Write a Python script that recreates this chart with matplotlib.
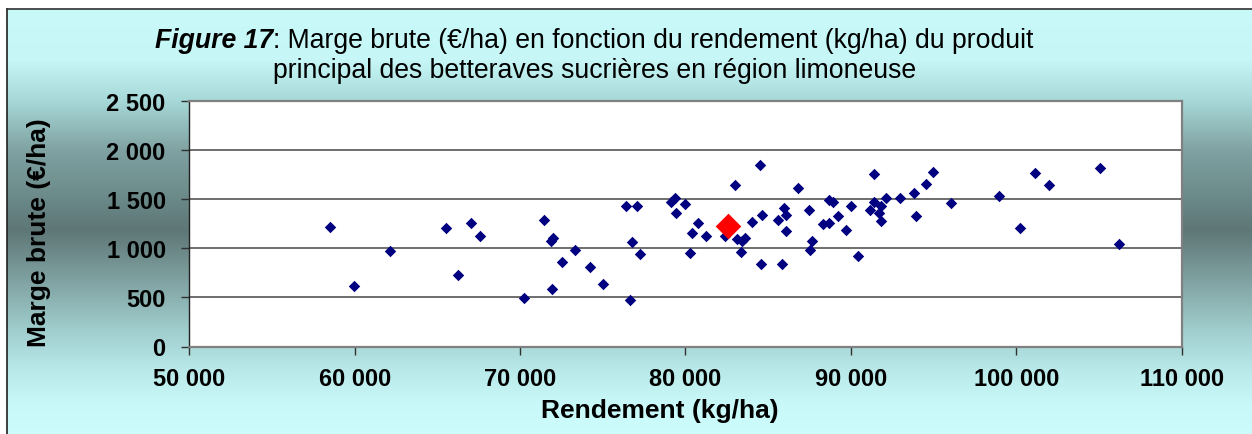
import numpy as np
import matplotlib
matplotlib.use("Agg")
import matplotlib.pyplot as plt
from matplotlib.colors import LinearSegmentedColormap
from matplotlib.ticker import FuncFormatter

plt.rcParams['font.family'] = ['Liberation Sans', 'DejaVu Sans']

# rendement (kg/ha) et marge brute (euro/ha) de chaque exploitation
rendement = [58530, 59950, 62160, 65510, 66240, 67020, 67570, 70250, 71460, 71860,
             72020, 71940, 72530, 73350, 74220, 75010, 76400, 76620, 76780, 77080,
             77280, 79150, 79350, 79950, 79430, 80760, 80390, 81260, 80250, 82990,
             82410, 83140, 83630, 83420, 83350, 84020, 84630, 84530, 84570, 85570,
             85940, 86100, 86100, 85840, 86780, 87480, 87660, 87510, 88330, 88670,
             88680, 88940, 89200, 89990, 89720, 90460, 91390, 91420, 91140, 91800,
             92100, 91700, 91850, 92950, 93820, 93960, 94540, 94980, 96070, 98930,
             100210, 101110, 101980, 105050, 106220]
marge = [1217, 618, 967, 1201, 723, 1258, 1126, 496, 1285, 1075,
         1099, 584, 855, 977, 805, 638, 1427, 472, 1062, 1424,
         943, 1470, 1510, 1451, 1353, 1255, 1153, 1126, 950, 1641,
         1126, 1092, 1102, 1069, 957, 1262, 1339, 1844, 838, 1290,
         1410, 1342, 1176, 840, 1610, 1390, 1075, 980, 1243, 1252,
         1490, 1465, 1324, 1430, 1182, 920, 1751, 1471, 1384, 1430,
         1508, 1360, 1275, 1509, 1563, 1329, 1650, 1771, 1461, 1532,
         1207, 1763, 1644, 1814, 1038]
# moyenne du groupe
moy_rendement = [82550]
moy_marge = [1227]

W, H = 1252, 435
fig = plt.figure(figsize=(W / 100, H / 100), dpi=100)
fig.patch.set_facecolor('white')

# fond en degrade
bg = fig.add_axes([7 / W, 0, 1 - 7 / W, 1 - 10 / H], zorder=-10)
stops = [(0.0, '#c9fafa'), (0.12, '#c6f6f6'), (0.21, '#a9dada'), (0.33, '#80a2a2'),
         (0.45, '#6a8888'), (0.52, '#5e7676'), (0.635, '#7fa0a0'), (0.753, '#9fcccc'),
         (0.847, '#b8e8e8'), (0.93, '#c8f8f8'), (1.0, '#ccfcfc')]
cmap = LinearSegmentedColormap.from_list('fond', stops)
bg.imshow(np.linspace(0, 1, 256).reshape(-1, 1), aspect='auto', cmap=cmap,
          extent=[0, 1, 1, 0])
bg.set_xticks([])
bg.set_yticks([])
for s in ['right', 'bottom']:
    bg.spines[s].set_visible(False)
bg.spines['left'].set_color('#202020')
bg.spines['top'].set_color('#303030')
bg.spines['left'].set_linewidth(1.2)
bg.spines['top'].set_linewidth(1.2)

ax = fig.add_axes([189.3 / W, 1 - 347.5 / H, (1181.6 - 189.3) / W, (347.5 - 101.7) / H])
ax.set_facecolor('white')
ax.scatter(rendement, marge, marker='D', s=34, color='#000080', linewidths=0, zorder=3)
ax.scatter(moy_rendement, moy_marge, marker='D', s=170, color='#ff0000', linewidths=0, zorder=4)

ax.set_xlim(50000, 110000)
ax.set_ylim(0, 2500)
ax.set_xticks(range(50000, 110001, 10000))
ax.set_yticks(range(0, 2501, 500))
fmt = FuncFormatter(lambda v, p: f"{int(v):,}".replace(',', ' '))
ax.xaxis.set_major_formatter(fmt)
ax.yaxis.set_major_formatter(fmt)
ax.grid(axis='y', color='#555555', lw=1.2)
ax.set_axisbelow(True)
ax.tick_params(axis='both', direction='out', length=6, width=1, color='#303030',
               labelsize=17)
ax.tick_params(axis='y', pad=11)
ax.tick_params(axis='x', pad=9)
for lab in ax.get_xticklabels() + ax.get_yticklabels():
    lab.set_fontweight('bold')
for s in ['top', 'right', 'bottom']:
    ax.spines[s].set_color('#808080')
    ax.spines[s].set_linewidth(1.6)
ax.spines['left'].set_color('#202020')
ax.spines['left'].set_linewidth(1.0)

ax.set_xlabel('Rendement (kg/ha)', fontsize=19, fontweight='bold')
ax.set_ylabel('Marge brute (€/ha)', fontsize=19, fontweight='bold')
ax.xaxis.set_label_coords((660 - 189.3) / (1181.6 - 189.3), -(399 - 347.5) / (347.5 - 101.7))
ax.yaxis.set_label_coords(-(189.3 - 51) / (1181.6 - 189.3), (347.5 - 233) / (347.5 - 101.7))

# titre
y1 = 1 - 48 / H
t1 = fig.text(155 / W, y1, 'Figure 17', fontsize=19.2, fontweight='bold',
              fontstyle='italic', ha='left', va='baseline')
fig.canvas.draw()
bb = t1.get_window_extent()
fig.text(bb.x1 / W, y1, ': Marge brute (€/ha) en fonction du rendement (kg/ha) du produit',
         fontsize=19.2, ha='left', va='baseline')
fig.text(595 / W, 1 - 78 / H, 'principal des betteraves sucrières en région limoneuse',
         fontsize=19.2, ha='center', va='baseline')

fig.savefig('out.png', dpi=100)
